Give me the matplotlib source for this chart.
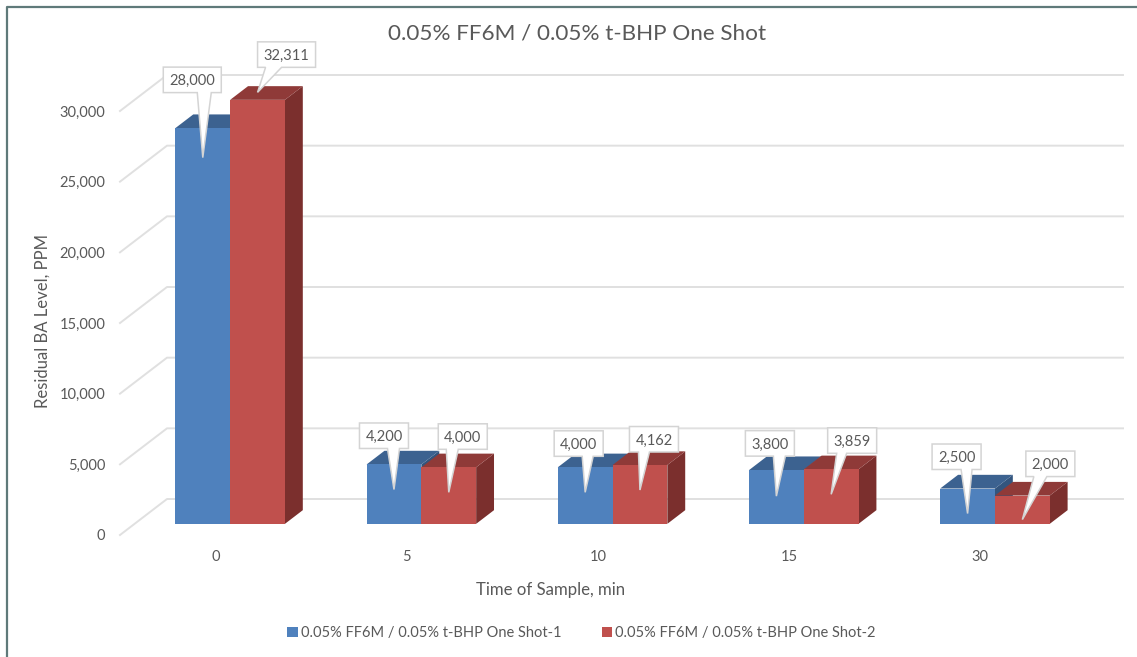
import numpy as np
import matplotlib
matplotlib.use("Agg")
import matplotlib.pyplot as plt
from matplotlib.patches import Polygon
from matplotlib.transforms import Affine2D

# -----------------------
# Data
# -----------------------
times = ["0", "5", "10", "15", "30"]
series_1 = [28000, 4200, 4000, 3800, 2500]
series_2 = [32311, 4000, 4162, 3859, 2000]
series_names = [
    "0.05% FF6M / 0.05% t-BHP One Shot-1",
    "0.05% FF6M / 0.05% t-BHP One Shot-2",
]
y_ticks = [0, 5000, 10000, 15000, 20000, 25000, 30000]
y_max = 30000

# -----------------------
# Layout / style
# -----------------------
W, H = 1137, 657
AX_LEFT, AX_RIGHT, AX_TOP, AX_BOTTOM = 120, 1076, 111, 535
WALL_DX, WALL_DY = 47, 36          # pixel shift of the back wall
BAR_WIDTH = 0.2865
DEPTH_FRONT, DEPTH_BACK = 0.31, 0.69

GRID = "#e0e0e0"
TEXT = "#595959"
COLORS_1 = {"front": "#4f81bd", "top": "#3c6290", "side": "#33557e"}
COLORS_2 = {"front": "#c0504d", "top": "#8f3a38", "side": "#7b2f2d"}

# manually dragged callouts, pixels from the bar's top centre (y down):
# box left, box bottom, wedge base left, wedge base width, tip drop
CALLOUTS_1 = [
    (-39.5, -35.5, -5.5, 14, 29.5),
    (-34.5, -16, -6.5, 12, 25),
    (-31, -11, -3, 11, 25),
    (-31, -14, -3, 12, 26),
    (-35.5, -19, -6.5, 11, 25),
]
CALLOUTS_2 = [
    (0, -32.5, 8, 16, -7.5),
    (-10.5, -18, -2.5, 12, 25),
    (-10.5, -13, -1.5, 11, 25),
    (-3.5, -16, 5.5, 10, 25),
    (3.5, -19, 11.5, 13, 24),
]

plt.rcParams["font.family"] = ["Lato", "DejaVu Sans"]

fig = plt.figure(figsize=(W / 100, H / 100), dpi=100)
ax = fig.add_axes([
    AX_LEFT / W,
    1 - AX_BOTTOM / H,
    (AX_RIGHT - AX_LEFT) / W,
    (AX_BOTTOM - AX_TOP) / H,
])
ax.set_xlim(-0.5, len(times) - 0.5)
ax.set_ylim(0, y_max)
ax.patch.set_visible(False)
for spine in ax.spines.values():
    spine.set_visible(False)

# one pixel in data units, used for the fake 3D depth
PX_X = (len(times)) / (AX_RIGHT - AX_LEFT)
PX_Y = y_max / (AX_BOTTOM - AX_TOP)
DX = WALL_DX * PX_X
DY = WALL_DY * PX_Y


def project(x, v, depth):
    return x + depth * DX, v + depth * DY


# -----------------------
# Walls
# -----------------------
x_min, x_max = ax.get_xlim()
for tick in y_ticks:
    p0 = project(x_min, tick, 0)
    p1 = project(x_min, tick, 1)
    p2 = project(x_max, tick, 1)
    ax.plot([p0[0], p1[0], p2[0]], [p0[1], p1[1], p2[1]],
            color=GRID, lw=1.4, clip_on=False, zorder=1)


# -----------------------
# Bars
# -----------------------
def draw_box(x0, x1, value, colors, label=None):
    top = min(value, y_max)

    side = [project(x1, 0, DEPTH_FRONT), project(x1, 0, DEPTH_BACK),
            project(x1, top, DEPTH_BACK), project(x1, top, DEPTH_FRONT)]
    ax.add_patch(Polygon(side, closed=True, fc=colors["side"], ec="none",
                         clip_on=False, zorder=2))

    roof = [project(x0, top, DEPTH_FRONT), project(x0, top, DEPTH_BACK),
            project(x1, top, DEPTH_BACK), project(x1, top, DEPTH_FRONT)]
    ax.add_patch(Polygon(roof, closed=True, fc=colors["top"], ec="none",
                         clip_on=False, zorder=2))

    fx, fy = project(x0, 0, DEPTH_FRONT)
    ax.bar(fx, top, width=x1 - x0, bottom=fy, align="edge", color=colors["front"],
           label=label, clip_on=False, zorder=2)


def draw_callout(x, value, spec):
    left, bottom, base, base_w, drop = spec
    fx, fy = project(x, min(value, y_max), DEPTH_FRONT)
    ax_px, ay_px = ax.transData.transform((fx, fy))
    to_px = Affine2D().translate(ax_px, ay_px)

    text = f"{value:,}"
    box_w = 58 if value >= 10000 else 49
    box_h = 25.5
    verts = [
        (left, -bottom),
        (base, -bottom),
        (0, -drop),
        (base + base_w, -bottom),
        (left + box_w, -bottom),
        (left + box_w, -bottom + box_h),
        (left, -bottom + box_h),
    ]
    ax.add_patch(Polygon(verts, closed=True, fc="white", ec="#d4d4d4", lw=1.1,
                         transform=to_px, clip_on=False, zorder=5))
    ax.text(left + box_w / 2, -bottom + box_h / 2, text, transform=to_px,
            ha="center", va="center_baseline", color=TEXT, fontsize=10.5, zorder=6)


for i, (v1, v2) in enumerate(zip(series_1, series_2)):
    draw_box(i - BAR_WIDTH, i, v1, COLORS_1, series_names[0] if i == 0 else None)
    draw_box(i, i + BAR_WIDTH, v2, COLORS_2, series_names[1] if i == 0 else None)

for i, (v1, v2) in enumerate(zip(series_1, series_2)):
    draw_callout(i - BAR_WIDTH / 2, v1, CALLOUTS_1[i])
    draw_callout(i + BAR_WIDTH / 2, v2, CALLOUTS_2[i])

# -----------------------
# Axes text
# -----------------------
ax.set_xticks(range(len(times)))
ax.set_xticklabels(times)
ax.set_yticks(y_ticks)
ax.set_yticklabels([f"{t:,}" for t in y_ticks])
ax.tick_params(axis="x", length=0, pad=11, labelsize=10.5, labelcolor=TEXT)
ax.tick_params(axis="y", length=0, pad=10.5, labelsize=10.5, labelcolor=TEXT)

fig.text(577 / W, 1 - 33 / H, "0.05% FF6M / 0.05% t-BHP One Shot",
         ha="center", va="center", fontsize=16.2, color=TEXT)
fig.text(551 / W, 1 - 590 / H, "Time of Sample, min",
         ha="center", va="center", fontsize=12.1, color=TEXT)
fig.text(43 / W, 1 - 321 / H, "Residual BA Level, PPM", rotation=90,
         ha="center", va="center", fontsize=12, color=TEXT)

handles, labels = ax.get_legend_handles_labels()
fig.legend(handles, labels, ncol=2, frameon=False, loc="center",
           bbox_to_anchor=(581.5 / W, 1 - 633 / H), fontsize=10.5, labelcolor=TEXT,
           handlelength=0.72, handleheight=0.72, handletextpad=0.2, columnspacing=2.8)

# outer chart frame (cropped screenshot, only left and top show)
frame = "#5f7a7a"
fig.add_artist(plt.Line2D([6.5 / W, 6.5 / W, 1], [0, 1 - 6.5 / H, 1 - 6.5 / H],
                          color=frame, lw=1.6))

fig.savefig("out.png", dpi=100)
plt.close(fig)
